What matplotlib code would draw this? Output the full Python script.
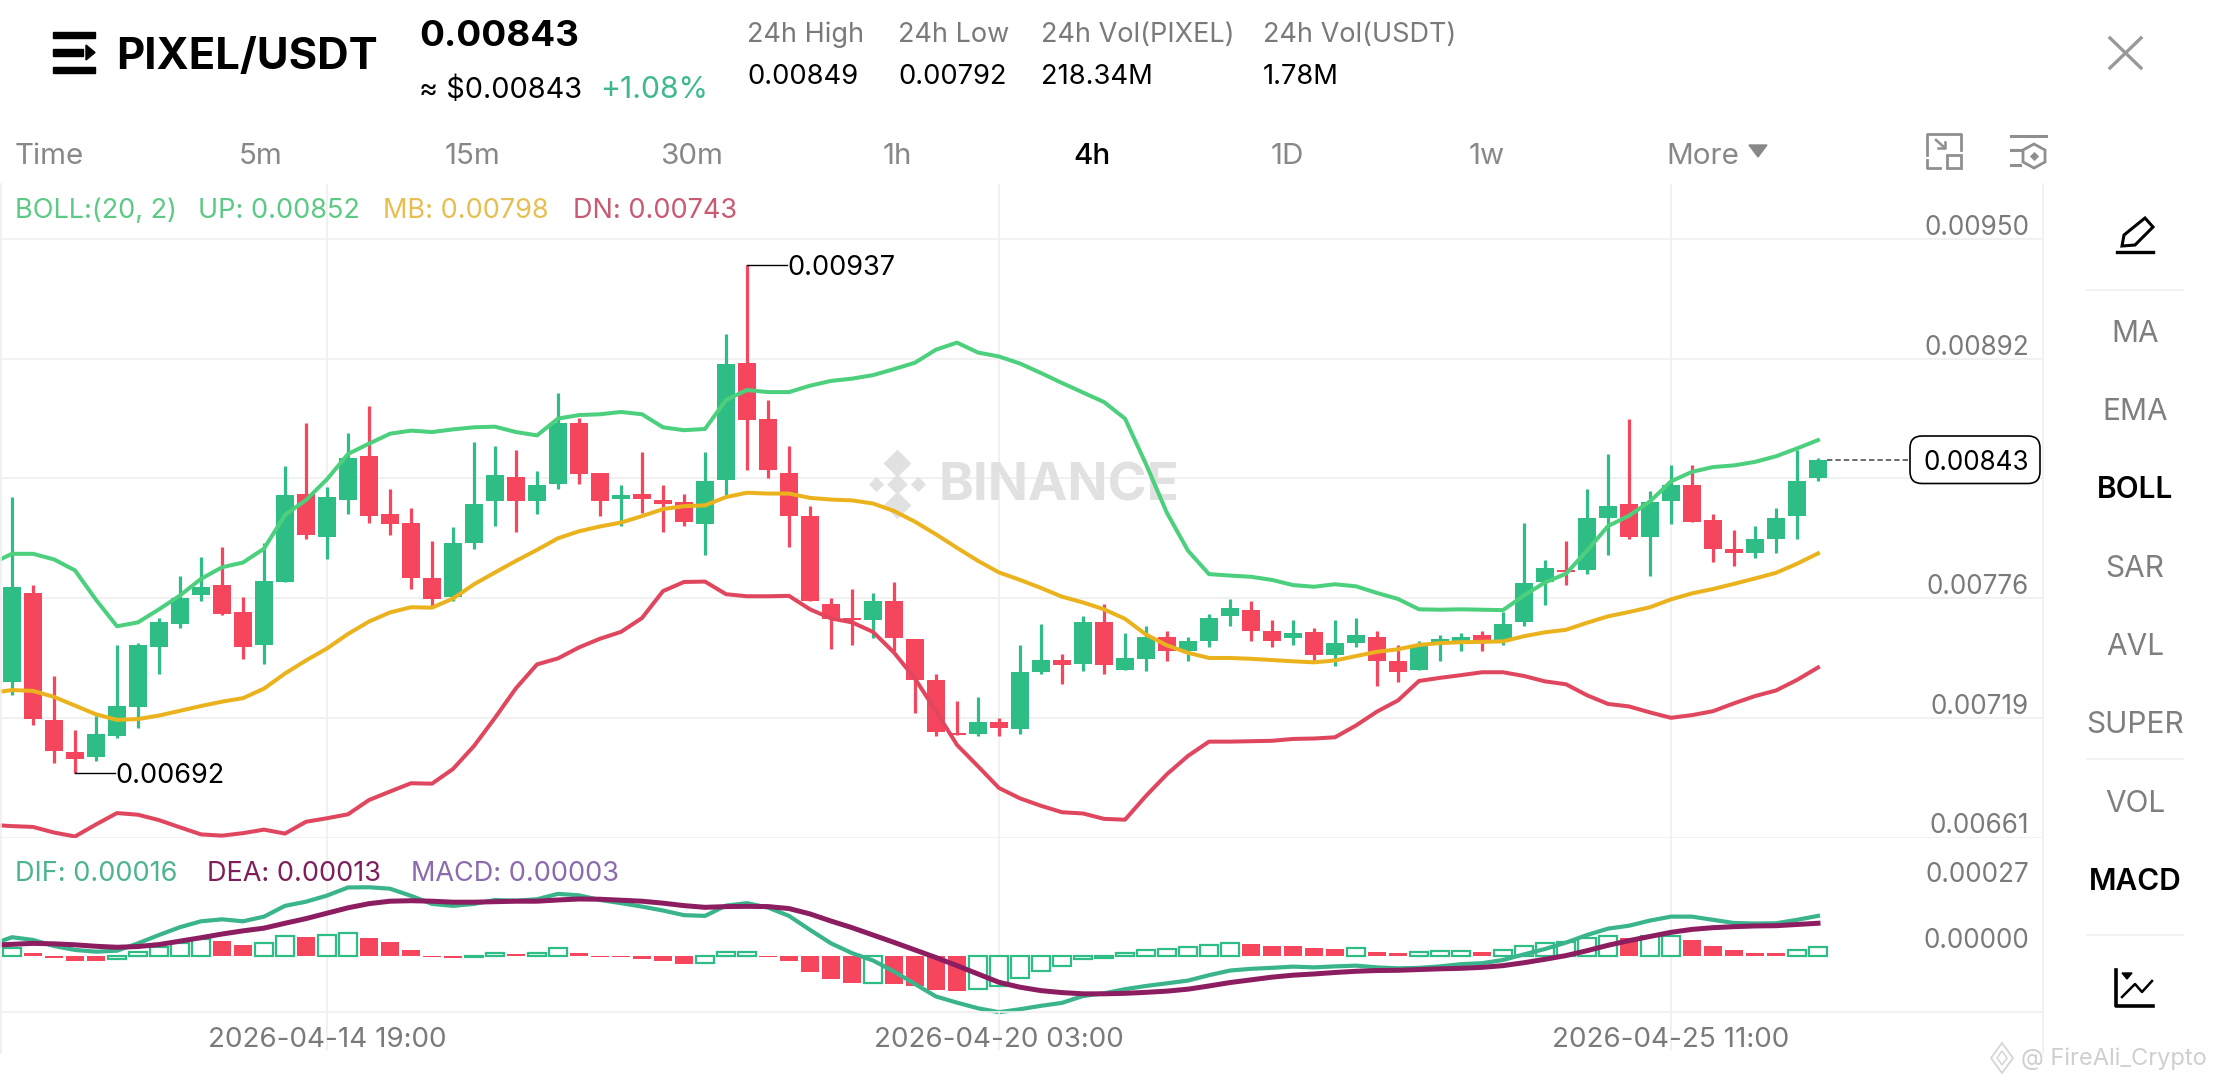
import numpy as np
from matplotlib import pyplot as plt
from matplotlib.patches import FancyBboxPatch, Polygon, Rectangle
from matplotlib.transforms import blended_transform_factory

plt.rcParams['font.family'] = ['Inter', 'Liberation Sans', 'DejaVu Sans']

# all prices below are in units of 0.00001
opens = [736.0,779.1,717.8,702.5,700.0,710.1,724.1,753.2,764.3,778.3,782.9,769.9,754.2,784.4,827.1,806.2,824.2,845.3,817.3,813.1,786.1,777.1,803.2,823.5,
         835.1,823.5,831.5,861.4,837.2,824.4,827.1,824.2,823.1,812.4,833.6,890.3,863.1,837.2,816.2,773.9,766.8,766.0,775.0,757.0,736.9,711.7,710.9,
         716.7,713.2,741.0,746.9,745.0,764.9,742.1,747.1,758.0,751.1,755.9,768.1,771.0,760.9,757.2,760.1,749.0,754.9,758.0,746.1,741.9,755.3,
         755.3,759.0,756.1,765.1,784.2,790.2,790.2,815.4,822.3,806.2,823.5,831.3,814.1,800.1,798.2,805.1,816.2,834.4]
highs = [825.2,783.1,738.8,713.0,719.9,754.0,754.9,767.0,787.3,796.3,801.1,777.1,803.0,840.3,861.2,830.2,856.4,869.4,829.2,820.0,804.3,811.0,852.2,850.3,
         848.3,838.2,875.5,863.7,837.2,831.3,847.2,831.3,827.1,847.2,904.4,937.7,872.3,850.3,821.0,776.8,781.0,779.1,784.2,757.0,739.8,727.0,728.9,
         718.8,753.8,763.9,749.8,767.8,773.9,759.9,763.0,760.9,758.0,769.1,776.0,775.0,766.0,766.0,762.0,766.0,767.0,760.9,754.0,755.9,759.0,
         759.9,760.9,769.9,813.1,795.1,804.3,829.2,846.4,863.3,828.1,841.1,841.1,817.3,809.3,811.2,820.2,848.3,844.3]
lows = [729.9,715.1,696.9,692.0,697.9,709.0,714.0,740.2,762.2,775.4,768.5,747.1,745.0,784.4,805.3,795.3,817.3,813.1,807.2,781.2,772.9,775.4,800.1,811.4,
        808.3,817.3,829.4,831.5,816.2,811.4,817.9,808.3,811.4,797.4,826.3,838.6,834.4,801.3,775.4,752.1,754.2,757.2,751.3,721.2,710.1,710.3,710.1,
        710.1,711.1,740.2,735.2,741.2,740.2,742.1,741.2,746.1,746.1,753.2,763.0,756.1,753.2,754.0,746.1,744.0,753.2,734.1,736.0,741.9,746.1,
        751.1,751.1,754.0,763.2,773.1,783.1,788.2,797.2,805.1,787.3,812.2,813.3,794.0,792.1,796.1,798.2,805.1,833.4]
closes = [782.0,718.0,702.9,699.0,710.9,724.7,754.0,764.9,776.8,782.0,769.1,753.2,785.0,826.3,807.2,825.2,844.3,816.2,812.4,786.3,776.2,803.2,822.1,836.1,
          823.5,831.3,861.4,836.5,823.5,826.3,824.4,822.3,813.3,833.2,889.5,862.7,838.4,816.2,775.4,766.6,765.8,775.0,757.4,737.1,712.1,710.3,716.7,
          713.8,741.0,746.9,744.2,764.9,744.2,747.9,758.0,751.1,755.9,767.0,771.8,760.9,756.1,759.9,749.0,754.9,758.8,746.1,741.0,754.0,757.0,
          757.8,755.3,764.1,784.0,791.1,789.0,815.2,821.2,806.2,823.1,831.3,813.3,800.3,798.4,805.1,815.2,833.2,843.2]

# bands start one bar left of the first candle, the chart clips them
boll_up = [793.2,798.0,798.0,795.3,790.0,775.8,763.0,764.9,771.2,777.9,785.9,791.5,793.8,800.5,816.8,824.0,834.0,846.2,851.2,856.0,857.5,856.8,858.1,859.1,859.4,
           856.8,855.2,863.3,865.0,865.4,866.5,865.4,859.1,857.7,858.3,872.3,877.1,876.1,876.1,879.2,881.5,882.6,884.3,887.2,890.3,896.6,900.0,895.2,
           893.3,889.9,885.3,880.5,875.9,871.3,863.3,841.3,817.7,799.5,788.2,787.5,786.9,785.4,782.9,782.1,783.3,782.3,779.1,776.2,771.2,771.0,
           771.2,771.0,770.8,777.9,784.2,788.4,799.5,811.4,816.4,823.3,833.0,837.6,839.9,840.7,842.4,845.1,848.9,852.9]
boll_mb = [730.8,732.2,731.8,728.9,724.7,720.5,717.8,718.2,719.9,722.2,724.5,726.6,728.3,732.9,740.2,746.5,752.3,759.3,765.3,769.7,772.2,772.0,776.4,783.3,789.0,
           794.6,799.9,805.5,808.9,811.2,813.1,816.2,819.6,821.0,821.4,825.4,827.5,827.1,827.1,825.0,824.2,823.8,822.3,818.7,813.5,807.4,800.9,794.6,
           789.0,785.4,781.5,777.3,774.5,771.2,766.6,759.0,753.8,750.2,747.7,747.7,747.3,746.7,746.1,745.6,746.5,748.6,750.7,751.9,754.0,754.9,
           755.3,755.5,755.7,758.2,760.1,761.3,764.7,767.8,769.9,772.2,776.0,778.9,781.0,783.5,786.1,788.8,793.2,798.2]
boll_dn = [667.1,666.5,666.1,663.4,661.5,667.3,672.8,672.0,669.4,665.9,662.5,661.9,663.1,664.8,662.9,668.6,670.3,672.2,679.1,683.2,687.2,687.0,694.1,705.2,718.8,
           733.1,744.6,747.5,752.8,757.0,760.3,767.0,780.0,784.4,784.6,778.5,777.5,777.5,777.7,771.2,766.8,764.9,760.3,750.3,737.7,722.0,705.7,695.4,
           684.9,679.9,676.3,673.2,672.6,670.0,669.6,681.1,691.6,700.4,707.3,707.3,707.5,707.7,708.6,708.8,709.4,715.1,721.8,727.2,736.6,738.1,
           739.4,740.8,740.8,739.0,736.4,735.0,729.7,725.5,724.3,721.4,718.8,720.1,722.0,725.8,729.3,732.0,737.1,743.1]

dif = [4.4,7.5,6.4,3.9,2.3,1.6,2.0,5.0,8.4,11.6,14.0,14.8,14.0,15.9,20.3,22.0,24.5,27.8,27.9,27.3,24.4,21.1,20.3,21.1,22.7,22.4,23.0,25.2,24.6,22.7,21.4,20.0,18.4,16.5,16.2,20.4,21.4,19.6,16.2,10.5,5.0,1.0,-2.0,-6.5,-11.6,-16.7,-19.2,-21.5,-23.1,
       -21.9,-20.5,-19.3,-16.5,-15.4,-13.7,-12.4,-11.3,-10.2,-8.0,-6.1,-5.4,-5.0,-4.5,-4.8,-4.4,-4.1,-4.8,-5.2,-5.0,-4.4,-3.5,-3.1,-1.8,0.5,2.7,5.3,8.4,11.0,12.2,14.3,15.9,15.9,14.6,13.3,13.1,13.2,14.6,16.2]
dea = [4.2,4.6,5.0,4.8,4.4,3.8,3.4,3.7,4.5,5.9,7.3,8.8,10.1,11.2,13.2,15.1,17.3,19.5,21.2,22.2,22.4,22.2,21.8,21.8,22.0,22.2,22.2,22.7,23.1,23.0,22.6,22.2,21.4,20.4,19.7,20.0,20.1,20.0,19.2,17.0,14.1,11.4,8.4,5.4,2.3,-0.8,-4.1,-7.5,-10.9,
       -12.9,-14.3,-15.1,-15.6,-15.6,-15.4,-15.0,-14.5,-13.7,-12.4,-11.0,-9.9,-8.8,-8.0,-7.5,-6.9,-6.4,-6.1,-6.0,-5.7,-5.4,-5.2,-4.8,-4.1,-2.9,-1.5,0.0,2.0,4.2,6.1,7.8,9.5,10.7,11.4,11.8,12.1,12.2,12.7,13.2]
macd = [2.9,0.9,-1.0,-2.2,-2.3,-1.5,1.6,3.4,5.3,6.7,6.0,4.2,5.2,7.8,7.5,8.4,9.3,7.3,5.4,2.2,-0.6,-1.0,-0.7,1.0,0.8,1.2,2.9,1.2,-0.5,-0.6,-1.5,-2.4,-3.5,-3.2,1.4,1.5,-0.6,-2.4,-6.7,-9.5,-11.2,-11.0,-11.7,-12.5,-14.0,-14.4,-13.6,
        -12.4,-9.1,-6.3,-4.2,-1.2,-0.8,1.2,2.3,2.7,3.4,4.4,5.3,4.8,3.9,3.8,3.0,2.6,3.0,1.6,1.1,1.6,1.9,2.0,1.6,2.4,4.1,5.0,5.6,7.2,8.2,7.2,8.0,8.2,6.3,4.1,2.3,1.0,0.9,2.4,3.4]

price_ticks = [950, 892.2, 834.4, 776.6, 718.8, 661]
price_labels = ["0.00950", "0.00892", "", "0.00776", "0.00719", "0.00661"]
macd_ticks = [27, 0]
macd_labels = ["0.00027", "0.00000"]
date_idx = [15, 47, 79]
date_labels = ["2026-04-14 19:00", "2026-04-20 03:00", "2026-04-25 11:00"]
side_items = ["MA", "EMA", "BOLL", "SAR", "AVL", "SUPER", "VOL", "MACD"]
tabs = ["Time", "5m", "15m", "30m", "1h", "4h", "1D", "1w"]

RED = "#F6465D"
GREEN = "#2EBD85"
GRID = "#EFEFEF"
GREY = "#7A7A7A"

W, H = 2220, 1080
fig = plt.figure(figsize=(22.2, 10.8), dpi=100, facecolor="white")

chart_r = 2043
top, mid, bot = 184, 837.5, 1011.7


def px_axes(x0, x1, y0, y1):
    return fig.add_axes([x0 / W, 1 - y1 / H, (x1 - x0) / W, (y1 - y0) / H])


ax = px_axes(0, chart_r, top, mid)
ax2 = px_axes(0, chart_r, mid, bot)
ui = fig.add_axes([0, 0, 1, 1], zorder=5)
ui.set_xlim(0, W)
ui.set_ylim(H, 0)
ui.axis("off")
ui.patch.set_alpha(0)

x = np.arange(len(opens))
xband = np.arange(-1, len(opens))
xlim = (-12 / 21, (chart_r - 12) / 21)

for a in (ax, ax2):
    a.set_xlim(xlim)
    a.set_xticks(date_idx)
    a.tick_params(length=0, labelbottom=False, labelleft=False)
    a.grid(True, color=GRID, lw=1.2)
    a.set_axisbelow(True)
    a.patch.set_alpha(0)
    for s in a.spines.values():
        s.set_visible(False)

ax.set_ylim(661, 976.6)
ax.set_yticks(price_ticks)
ax2.set_ylim(-22.9, 48.2)
ax2.set_yticks([])

# watermark sits under the candles
ax.text(939, 487, "BINANCE", color="#E1E1E1", fontsize=38, fontweight="bold", va="center",
        transform=ui.transData, zorder=1)
for dx, dy, s in [(0, -21, 200), (-21, 0, 60), (21, 0, 60), (0, 21, 200), (0, 0, 110)]:
    ax.scatter(897 + dx, 484 + dy, marker="D", s=s, color="#E1E1E1", transform=ui.transData, zorder=1, lw=0)

# candles
o = np.array(opens)
c = np.array(closes)
colors = [GREEN if c[i] >= o[i] else RED for i in x]
ax.vlines(x, lows, highs, colors=colors, lw=2.3, zorder=3)
ax.bar(x, np.abs(c - o), bottom=np.minimum(o, c), width=0.86, color=colors, zorder=3, lw=0)

ax.plot(xband, boll_up, color="#4CD07D", lw=2.9, zorder=4)
ax.plot(xband, boll_mb, color="#EAB31E", lw=2.9, zorder=4)
ax.plot(xband, boll_dn, color="#E0475F", lw=2.9, zorder=4)

# high / low tags
hi = int(np.argmax(highs))
lo = int(np.argmin(lows))
ax.plot([hi, hi + 1.9], [highs[hi]] * 2, color="black", lw=1, zorder=5)
ax.text(hi + 1.9, highs[hi] - 1.5, "0.00937", fontsize=19.5, va="center", color="black", zorder=6)
ax.plot([lo, lo + 1.9], [lows[lo]] * 2, color="black", lw=1, zorder=5)
ax.text(lo + 1.9, lows[lo] - 1.5, "0.00692", fontsize=19.5, va="center", color="black", zorder=6)

# last price
ax.plot([x[-1] + 0.45, 90.6], [closes[-1]] * 2, color="#444444", lw=1.1, ls=(0, (3.5, 2)), zorder=5)

# macd panel
m = np.array(macd)
up = np.r_[True, m[1:] >= m[:-1]]
ax2.bar(x[up], m[up], width=0.84, facecolor="white", edgecolor=GREEN, lw=1.6, zorder=2)
ax2.bar(x[~up], m[~up], width=0.9, color=RED, lw=0, zorder=2)
ax2.plot(xband, dif, color="#39B48C", lw=3, zorder=3, clip_on=False)
ax2.plot(xband, dea, color="#8C1D60", lw=3.6, zorder=4)

# panel lines and frame
ui.plot([0, chart_r], [bot, bot], color=GRID, lw=1.2)
ui.plot([chart_r, chart_r], [top, 1053], color=GRID, lw=1.2)
ui.plot([1, 1], [top, 1053], color=GRID, lw=1.2)
for i in date_idx:
    ui.plot([12 + 21 * i] * 2, [bot, 1050], color=GRID, lw=1.2)


def label(px, py, s, size=19.5, color="black", ha="left", weight="normal"):
    ui.text(px, py, s, fontsize=size, color=color, ha=ha, va="center", fontweight=weight)


trans = blended_transform_factory(ui.transData, ax.transData)
for v, s in zip(price_ticks, price_labels):
    if s:
        ui.text(2029, v + 5.4, s, fontsize=18.8, color=GREY, ha="right", va="center", transform=trans)
trans2 = blended_transform_factory(ui.transData, ax2.transData)
for v, s in zip(macd_ticks, macd_labels):
    ui.text(2029, v + 6, s, fontsize=18.8, color=GREY, ha="right", va="center", transform=trans2)

ui.add_patch(FancyBboxPatch((1910, 436), 130, 47.5, boxstyle="round,pad=0,rounding_size=12",
                            fc="white", ec="black", lw=1.2, zorder=6))
ui.text(2029, 463, "0.00843", fontsize=18.8, ha="right", va="center", color="black", zorder=7)

# legends
label(15, 211, "BOLL:(20, 2)", color="#5CC984")
label(198, 211, "UP: 0.00852", color="#5CC984")
label(383, 211, "MB: 0.00798", color="#E5BF50")
label(573, 211, "DN: 0.00743", color="#C85A72")
label(15, 874, "DIF: 0.00016", color="#4DB391")
label(207, 874, "DEA: 0.00013", color="#7E1F5C")
label(411, 874, "MACD: 0.00003", color="#8A6BAE")

for i, s in zip(date_idx, date_labels):
    label(12 + 21 * i, 1040, s, size=20, color=GREY, ha="center")

# header
label(116, 57, "PIXEL/USDT", size=31.4, weight="bold")
label(419, 36, "0.00843", size=26.5, weight="bold")
label(419, 90, "≈ $0.00843", size=20.8)
label(600, 90, "+1.08%", size=21.7, color="#3FB88F")
for px, a, b in [(747, "24h High", "0.00849"), (898, "24h Low", "0.00792"),
                 (1041, "24h Vol(PIXEL)", "218.34M"), (1263, "24h Vol(USDT)", "1.78M")]:
    label(px, 35, a, color=GREY)
    label(px, 77, b, size=19.7)

ui.add_patch(Rectangle((53, 32), 42, 6, color="black"))
ui.add_patch(Rectangle((53, 49), 30, 7, color="black"))
ui.add_patch(Rectangle((53, 67), 42, 6, color="black"))
ui.add_patch(Polygon([(86, 45), (95, 52.5), (86, 60)], color="black"))

# tabs
tab_x = [15, 261, 472, 691, 897, 1092, 1287, 1487]
for px, s in zip(tab_x, tabs):
    if s == "4h":
        label(px, 156, s, size=21.3, ha="center", weight="medium")
    elif s == "Time":
        label(px, 156, s, size=21.3, color="#888888")
    else:
        label(px, 156, s, size=21.3, color="#888888", ha="center")
label(1666, 156, "More", size=21.3, color="#888888")
ui.add_patch(Polygon([(1749, 145), (1767, 145), (1758, 157)], color="#888888"))

# small grey icons
g = "#8F8F8F"
ui.plot([1927, 1927, 1961, 1961], [155, 134, 134, 150], color=g, lw=2)
ui.plot([1927, 1927, 1940], [160, 168, 168], color=g, lw=2)
ui.add_patch(Rectangle((1947, 155), 14, 13, fc="none", ec=g, lw=2))
ui.plot([1936, 1945], [140, 148], color=g, lw=1.8)
ui.plot([1945, 1945, 1938], [142, 148, 148], color=g, lw=1.8)
ui.plot([2011, 2046], [136, 136], color=g, lw=2.2)
ui.plot([2011, 2020], [150, 150], color=g, lw=2.2)
ui.plot([2011, 2020], [165, 165], color=g, lw=2.2)
ui.add_patch(Polygon([(2034, 144), (2045, 150), (2045, 162), (2034, 168), (2023, 162), (2023, 150)], fc="none", ec=g, lw=2))
ui.scatter([2034], [156], marker="D", s=22, color=g, lw=0)
ui.plot([2110, 2141], [38, 68], color="#999999", lw=2.4)
ui.plot([2141, 2110], [38, 68], color="#999999", lw=2.4)

# right menu
side_y = [334, 412, 490, 569, 647, 725, 804, 882]
for py, s in zip(side_y, side_items):
    active = s in ("BOLL", "MACD")
    label(2135, py, s, size=21.5, ha="center", color="black" if active else "#7F7F7F", weight="semibold" if active else "normal")
for py in (290, 759, 935):
    ui.plot([2087, 2183], [py, py], color=GRID, lw=1.2)

ui.add_patch(Polygon([(2122, 246), (2124, 235), (2145, 218), (2153, 227), (2135, 245)], fc="none", ec="black", lw=2.2))
ui.plot([2117, 2147], [252, 252], color="black", lw=2.4)
ui.plot([2150, 2153], [252, 252], color="black", lw=2.4)
ui.plot([2116, 2116, 2153], [970, 1006, 1006], color="black", lw=2.6)
ui.plot([2122, 2135, 2142, 2152], [997, 984, 992, 981], color="black", lw=1.8)
ui.add_patch(Polygon([(2122, 973), (2132, 973), (2127, 979)], color="black"))

# reposter tag
label(2021, 1059, "@ FireAli_Crypto", size=17, color="#CFCFCF")
ui.add_patch(Polygon([(2002, 1043), (2013, 1058), (2002, 1073), (1991, 1058)], fc="none", ec="#D5D5D5", lw=1.3))
ui.add_patch(Polygon([(2002, 1051), (2007, 1058), (2002, 1065), (1997, 1058)], fc="none", ec="#D5D5D5", lw=1.1))

plt.savefig("out.png", dpi=100, facecolor="white")
